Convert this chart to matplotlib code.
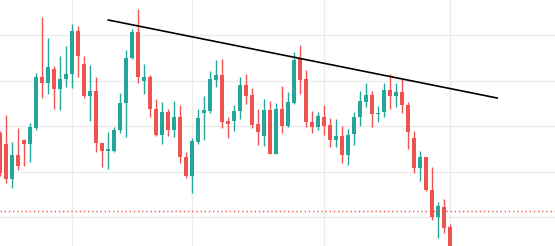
import matplotlib
matplotlib.use("Agg")
import matplotlib.pyplot as plt
import numpy as np

# OHLC (arbitrary price units)
opens = [117, 106, 71, 95, 110, 106, 122, 173, 167, 181, 161, 171, 176, 219, 186, 154,
         159, 107, 99, 99, 120, 147, 192, 218, 169, 173, 141, 115, 138, 120, 133, 93,
         74, 108, 137, 139, 170, 175, 129, 129, 139, 165, 155, 126, 114, 140, 96, 141,
         124, 147, 191, 171, 128, 123, 133, 125, 110, 114, 95, 116, 133, 148, 155, 136,
         138, 160, 154, 158, 145, 112, 82, 93, 60, 33, 43, 23]
highs = [119, 135, 108, 122, 111, 127, 177, 233, 212, 184, 194, 204, 226, 224, 194, 185,
         173, 107, 118, 123, 157, 200, 221, 241, 186, 175, 151, 148, 141, 149, 145, 98,
         112, 141, 154, 179, 190, 191, 133, 145, 173, 176, 162, 141, 151, 149, 147, 164,
         158, 198, 205, 180, 139, 138, 145, 132, 131, 124, 121, 138, 159, 167, 159, 144,
         167, 176, 167, 171, 148, 119, 99, 93, 83, 48, 51, 26]
lows = [74, 67, 62, 80, 84, 88, 120, 152, 156, 141, 140, 163, 162, 173, 152, 129,
        98, 83, 81, 98, 117, 113, 191, 167, 156, 133, 114, 106, 114, 113, 87, 72,
        57, 106, 110, 137, 163, 122, 112, 119, 131, 146, 122, 105, 104, 96, 96, 117,
        123, 146, 156, 123, 117, 120, 115, 103, 103, 87, 85, 105, 124, 143, 123, 128,
        133, 141, 143, 137, 101, 77, 69, 59, 30, 12, 17, -6]
closes = [77, 71, 95, 84, 106, 123, 173, 167, 183, 161, 171, 176, 219, 194, 154, 159,
          107, 99, 101, 120, 147, 192, 218, 173, 173, 141, 115, 138, 120, 133, 93, 74,
          109, 132, 140, 171, 175, 128, 126, 139, 165, 154, 125, 118, 140, 96, 141, 124,
          148, 190, 170, 128, 123, 134, 124, 110, 114, 95, 115, 133, 149, 155, 136, 137,
          160, 154, 158, 145, 118, 82, 93, 60, 33, 44, 22, -2]

# trendline anchors (bar index, price) and the dotted level
trend_x = [18, 82.8]
trend_y = [230, 152]
level = 39

grid_prices = [33, 78.5, 124, 169.5, 215]
grid_bars = [12, 32, 54, 75]

UP = "#26a69a"
DOWN = "#ef5350"

o = np.array(opens, float)
h = np.array(highs, float)
l = np.array(lows, float)
c = np.array(closes, float)
x = np.arange(len(o))
colors = np.where(c >= o, UP, DOWN)

fig = plt.figure(figsize=(5.55, 2.46), dpi=100)
ax = fig.add_axes([0, 0, 1, 1])

ax.set_xticks(grid_bars)
ax.set_yticks(grid_prices)
ax.grid(True, color="#ececec", linewidth=1)
ax.set_axisbelow(True)
ax.tick_params(length=0, labelbottom=False, labelleft=False)
for s in ax.spines.values():
    s.set_visible(False)

ax.vlines(x, l, h, colors=colors, linewidth=1)
bottoms = np.minimum(o, c)
heights = np.maximum(np.abs(c - o), 1.0)
ax.bar(x, heights, bottom=bottoms, width=0.68, color=colors, linewidth=0)

ax.axhline(level, color=DOWN, linestyle=(0, (1, 2)), linewidth=1)
ax.plot(trend_x, trend_y, color="black", linewidth=1.2)

ax.set_xlim(-0.05, 92.45)
ax.set_ylim(4, 250)

fig.savefig("out.png", dpi=100)
